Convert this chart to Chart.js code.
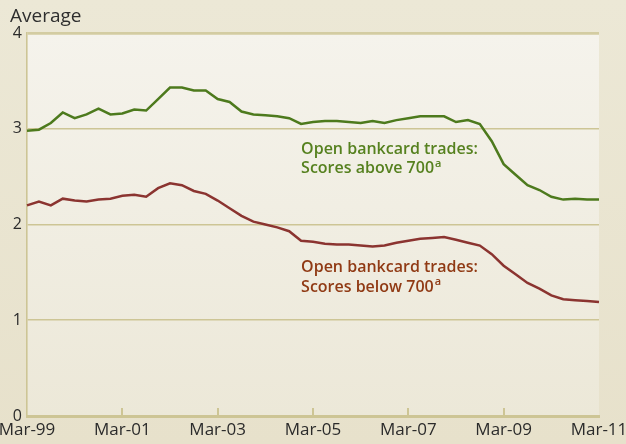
<!DOCTYPE html>
<html>
<head>
<meta charset="utf-8">
<script src="https://cdn.jsdelivr.net/npm/chart.js@4/dist/chart.umd.min.js"></script>
<style>
  html, body { margin: 0; padding: 0; background: #ebe6d3; }
  #wrap { width: 626px; height: 444px; position: relative; }
</style>
</head>
<body>
<div id="wrap"><canvas id="chart"></canvas></div>
<script>
// quarterly averages, Mar-99 .. Mar-11
const years = ['99','00','01','02','03','04','05','06','07','08','09','10','11'];
const months = ['Mar','Jun','Sep','Dec'];
const tickLabels = ['Mar-99','Mar-01','Mar-03','Mar-05','Mar-07','Mar-09','Mar-11'];

const scoresAbove = [2.98,2.99,3.06,3.17,3.11,3.15,3.21,3.15,3.16,3.20,3.19,3.31,3.43,3.43,3.40,3.40,
  3.31,3.28,3.18,3.15,3.14,3.13,3.11,3.05,3.07,3.08,3.08,3.07,3.06,3.08,3.06,3.09,
  3.11,3.13,3.13,3.13,3.07,3.09,3.05,2.87,2.63,2.52,2.41,2.36,2.29,2.26,2.27,2.26,2.26];
const scoresBelow = [2.20,2.24,2.20,2.27,2.25,2.24,2.26,2.27,2.30,2.31,2.29,2.38,2.43,2.41,2.35,2.32,
  2.25,2.17,2.09,2.03,2.00,1.97,1.93,1.83,1.82,1.80,1.79,1.79,1.78,1.77,1.78,1.81,
  1.83,1.85,1.86,1.87,1.84,1.81,1.78,1.69,1.57,1.48,1.39,1.33,1.26,1.22,1.21,1.20,1.19];

const quarters = [];
years.forEach(y => months.forEach(m => quarters.push(m + '-' + y)));
quarters.length = scoresAbove.length; // ends at Mar-11

const GREEN = '#4d7a1d', RED = '#8b3430';
const GRID = '#cdc595';
const FONT = '"Open Sans", "DejaVu Sans", sans-serif';

const backdrop = {
  id: 'backdrop',
  beforeDraw(chart) {
    const { ctx, chartArea: a, width, height } = chart;
    ctx.save();
    let g = ctx.createLinearGradient(0, 0, 0, height);
    g.addColorStop(0, '#ece8d6');
    g.addColorStop(1, '#e7e1cb');
    ctx.fillStyle = g;
    ctx.fillRect(0, 0, width, height);
    g = ctx.createLinearGradient(0, a.top, 0, a.bottom);
    g.addColorStop(0, '#f5f3ec');
    g.addColorStop(1, '#ece8d8');
    ctx.fillStyle = g;
    ctx.fillRect(a.left, a.top, a.right - a.left, a.bottom - a.top);
    ctx.restore();
  },
  afterDraw(chart) {
    const { ctx, scales: { x, y } } = chart;
    ctx.save();
    // inner tick marks on the time axis
    ctx.strokeStyle = GRID;
    ctx.lineWidth = 2;
    for (let i = 8; i < quarters.length - 1; i += 8) {
      const px = Math.round(x.getPixelForValue(i));
      ctx.beginPath();
      ctx.moveTo(px, y.bottom);
      ctx.lineTo(px, y.bottom - 8);
      ctx.stroke();
    }
    // titles and series labels
    ctx.textBaseline = 'alphabetic';
    ctx.fillStyle = '#2e2e2e';
    ctx.font = '19px ' + FONT;
    ctx.fillText('Average', 10, 22);
    const label = (lines, color, px, py) => {
      ctx.fillStyle = color;
      ctx.font = '600 16px ' + FONT;
      ctx.fillText(lines[0], px, py);
      ctx.fillText(lines[1], px, py + 19.5);
      const w = ctx.measureText(lines[1]).width;
      ctx.font = '600 11px ' + FONT;
      ctx.fillText('a', px + w + 1, py + 13);
    };
    const lx = x.getPixelForValue(23);
    label(['Open bankcard trades:', 'Scores above 700'], '#56811f', lx, y.getPixelForValue(2.74));
    label(['Open bankcard trades:', 'Scores below 700'], '#903a14', lx, y.getPixelForValue(1.5));
    ctx.restore();
  }
};

new Chart(document.getElementById('chart'), {
  type: 'line',
  data: {
    labels: quarters,
    datasets: [
      { label: 'Scores above 700', data: scoresAbove, borderColor: GREEN, borderWidth: 2.5, pointRadius: 0, tension: 0 },
      { label: 'Scores below 700', data: scoresBelow, borderColor: RED, borderWidth: 2.5, pointRadius: 0, tension: 0 }
    ]
  },
  options: {
    responsive: true,
    maintainAspectRatio: false,
    animation: false,
    layout: { padding: { top: 33, right: 27, left: 0, bottom: 0 } },
    plugins: { legend: { display: false }, tooltip: { enabled: false } },
    scales: {
      x: {
        offset: false,
        grid: { display: false, drawTicks: false },
        border: { display: true, color: GRID, width: 3 },
        afterFit: s => { s.height = 28; s.paddingLeft = 0; s.paddingRight = 0; },
        ticks: {
          autoSkip: false,
          maxRotation: 0,
          padding: 4,
          color: '#2b2b2b',
          font: { family: FONT, size: 17 },
          callback: (v, i) => i % 8 === 0 ? tickLabels[i / 8] : ''
        }
      },
      y: {
        min: 0,
        max: 4,
        grid: {
          color: c => c.tick && c.tick.value === 4 ? '#d3cca2' : GRID,
          lineWidth: c => c.tick && c.tick.value === 4 ? 2.8 : 1.6,
          drawTicks: false
        },
        border: { display: true, color: GRID, width: 1.6 },
        afterFit: s => { s.width = 27; },
        ticks: {
          stepSize: 1,
          padding: 5,
          color: '#2b2b2b',
          font: { family: FONT, size: 16 }
        }
      }
    }
  },
  plugins: [backdrop]
});
</script>
</body>
</html>
